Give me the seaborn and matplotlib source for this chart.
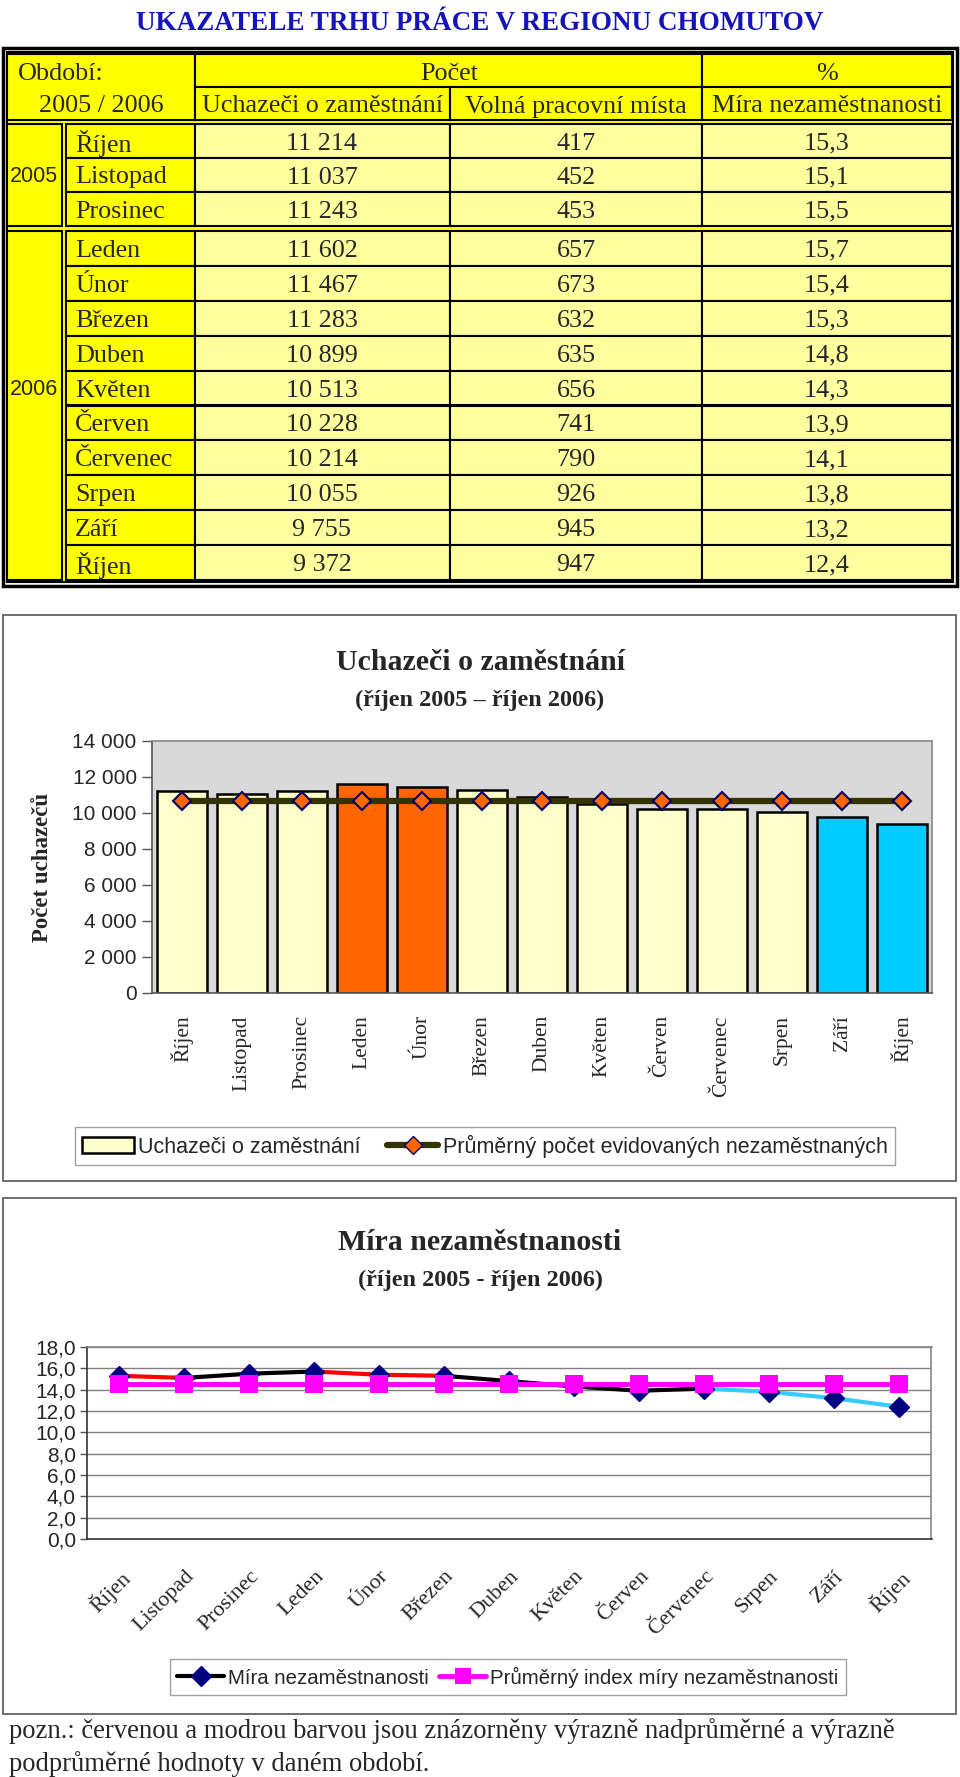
import matplotlib
matplotlib.use("Agg")
import matplotlib.pyplot as plt
import matplotlib.patches as mpatches
from matplotlib.lines import Line2D
import numpy as np
import pandas as pd
import seaborn as sns

# Data
mesice = ["Říjen", "Listopad", "Prosinec", "Leden", "Únor", "Březen", "Duben",
          "Květen", "Červen", "Červenec", "Srpen", "Září", "Říjen"]
roky = ["2005", "2006"]
pocet_mesicu = [3, 10]
uchazeci = [11214, 11037, 11243, 11602, 11467, 11283, 10899, 10513, 10228,
            10214, 10055, 9755, 9372]
volna_mista = [417, 452, 453, 657, 673, 632, 635, 656, 741, 790, 926, 945, 947]
mira = [15.3, 15.1, 15.5, 15.7, 15.4, 15.3, 14.8, 14.3, 13.9, 14.1, 13.8, 13.2, 12.4]
prumer_uchazeci = [10683, 10683, 10683, 10683, 10683, 10683, 10683,
                   10683, 10683, 10683, 10683, 10683, 10683]
prumer_mira = [14.5, 14.5, 14.5, 14.5, 14.5, 14.5, 14.5,
               14.5, 14.5, 14.5, 14.5, 14.5, 14.5]

# styles
barvy_sloupcu = ["#FFFFCC", "#FFFFCC", "#FFFFCC", "#FF6600", "#FF6600", "#FFFFCC",
                 "#FFFFCC", "#FFFFCC", "#FFFFCC", "#FFFFCC", "#FFFFCC", "#00CCFF", "#00CCFF"]
barvy_useku = ["#FF0000", "#000000", "#000000", "#FF0000", "#FF0000", "#000000",
               "#000000", "#000000", "#000000", "#33CCFF", "#33CCFF", "#33CCFF"]

SERIF = "Liberation Serif"
SANS = "Liberation Sans"
W, H = 960, 1777

sns.set_style("white")
plt.rcParams["font.family"] = [SANS, "DejaVu Sans"]

fig = plt.figure(figsize=(W / 100, H / 100), dpi=100)
bg = fig.add_axes([0, 0, 1, 1], zorder=0)
bg.set_xlim(0, W)
bg.set_ylim(H, 0)
bg.axis("off")


def fmt_int(v):
    return f"{v:,}".replace(",", " ")


def fmt_dec(v):
    return f"{v:.1f}".replace(".", ",")


def cell(x0, y0, x1, y1, fc, lw=1.5):
    bg.add_patch(mpatches.Rectangle((x0, y0), x1 - x0, y1 - y0, facecolor=fc,
                                    edgecolor="black", linewidth=lw))


# ---- title
bg.text(480, 24, "UKAZATELE TRHU PRÁCE V REGIONU CHOMUTOV", ha="center", va="center",
        fontsize=19.5, fontweight="bold", family=SERIF, color="#1414B8")

# ---- table
yellow = "#FFFF00"
pale = "#FFFFA0"
cell(3, 48, 957, 586, "white", lw=2.5)
cell(7, 52, 953, 582, yellow, lw=1.5)

# header
cell(7, 54, 195, 120, yellow)
cell(195, 54, 702, 87, yellow)
cell(702, 54, 952, 87, yellow)
cell(195, 87, 450, 120, yellow)
cell(450, 87, 702, 120, yellow)
cell(702, 87, 952, 120, yellow)
tfs = 18.8
dy = 2.5
bg.text(18, 72 + dy, "Období:", ha="left", va="center", fontsize=tfs, family=SERIF)
bg.text(101, 104 + dy, "2005 / 2006", ha="center", va="center", fontsize=tfs, family=SERIF)
bg.text(449, 71 + dy, "Počet", ha="center", va="center", fontsize=tfs, family=SERIF)
bg.text(827, 71 + dy, "%", ha="center", va="center", fontsize=tfs, family=SERIF)
bg.text(322, 104 + dy, "Uchazeči o zaměstnání", ha="center", va="center", fontsize=tfs, family=SERIF)
bg.text(576, 104 + dy, "Volná pracovní místa", ha="center", va="center", fontsize=tfs, family=SERIF)
bg.text(827, 104 + dy, "Míra nezaměstnanosti", ha="center", va="center", fontsize=tfs, family=SERIF)

bloky = [(124, 226), (231, 580)]
i = 0
for rok, n, (yt, yb) in zip(roky, pocet_mesicu, bloky):
    rh = (yb - yt) / n
    cell(7, yt, 62, yb, yellow)
    ystred = yt + ((n - 1) // 2 + 0.5) * rh
    bg.text(34, ystred + 1, rok, ha="center", va="center", fontsize=15.5, family=SANS)
    for k in range(n):
        y0 = yt + k * rh
        y1 = y0 + rh
        cell(66, y0, 195, y1, yellow)
        cell(195, y0, 450, y1, pale)
        cell(450, y0, 702, y1, pale)
        cell(702, y0, 952, y1, pale)
        yc = (y0 + y1) / 2 + dy
        bg.text(75, yc, mesice[i], ha="left", va="center", fontsize=tfs, family=SERIF)
        bg.text(322, yc, fmt_int(uchazeci[i]), ha="center", va="center", fontsize=tfs, family=SERIF)
        bg.text(576, yc, fmt_int(volna_mista[i]), ha="center", va="center", fontsize=tfs, family=SERIF)
        bg.text(827, yc, fmt_dec(mira[i]), ha="center", va="center", fontsize=tfs, family=SERIF)
        i += 1

# ---- chart boxes
for y0, y1 in [(615, 1181), (1198, 1714)]:
    bg.add_patch(mpatches.Rectangle((3, y0), 953, y1 - y0, facecolor="white",
                                    edgecolor="#555555", linewidth=1.2))

# ---- chart 1: bars
bg.text(480, 663, "Uchazeči o zaměstnání", ha="center", va="center", fontsize=21.5,
        fontweight="bold", family=SERIF)
bg.text(480, 700, "(říjen 2005 – říjen 2006)", ha="center", va="center", fontsize=17.5,
        fontweight="bold", family=SERIF)

ax1 = fig.add_axes([152 / W, 1 - 993 / H, 780 / W, 252 / H], zorder=2)
ax1.set_facecolor("#D9D9D9")
klice = [str(k) for k in range(len(mesice))]
df1 = pd.DataFrame({"klic": klice, "uchazeci": uchazeci})
sns.barplot(data=df1, x="klic", y="uchazeci", hue="klic",
            palette=dict(zip(klice, barvy_sloupcu)), legend=False, width=0.82,
            saturation=1, edgecolor="black", linewidth=1.8, ax=ax1, zorder=2)
sns.lineplot(x=np.arange(len(mesice)), y=prumer_uchazeci, color="#333300", linewidth=4.5,
             marker="D", markersize=9, markerfacecolor="#FF6600", markeredgecolor="#000066",
             markeredgewidth=1.5, ax=ax1, zorder=3)
ax1.set_xlim(-0.5, len(mesice) - 0.5)
ax1.set_ylim(0, 14000)
ax1.set_yticks(range(0, 14001, 2000))
ax1.set_yticklabels([fmt_int(v) for v in range(0, 14001, 2000)], fontsize=15, family=SANS)
ax1.set_xticks(range(len(mesice)))
ax1.set_xticklabels(mesice, rotation=90, fontsize=15.5, family=SERIF)
ax1.set_xticks(np.arange(-0.5, len(mesice)), minor=True)
ax1.tick_params(axis="x", which="major", length=0, pad=16)
ax1.tick_params(axis="x", which="minor", length=7, width=1, color="#555555")
ax1.tick_params(axis="y", length=7, width=1, color="#555555", left=True, pad=4)
ax1.set_xlabel("")
ax1.set_ylabel("Počet uchazečů", fontsize=16.5, fontweight="bold",
               family=SERIF, labelpad=14)
for s in ["top", "right"]:
    ax1.spines[s].set_color("#888888")
for s in ["left", "bottom"]:
    ax1.spines[s].set_color("#555555")
for s in ax1.spines.values():
    s.set_visible(True)
    s.set_linewidth(1.2)

h1 = [mpatches.Patch(facecolor="#FFFFCC", edgecolor="black", linewidth=1.8),
      Line2D([], [], color="#333300", linewidth=4.5, marker="D", markersize=9,
             markerfacecolor="#FF6600", markeredgecolor="#000066")]
fig.legend(h1, ["Uchazeči o zaměstnání", "Průměrný počet evidovaných nezaměstnaných"],
           loc="center", bbox_to_anchor=(485 / W, 1 - 1146 / H), ncol=2,
           frameon=True, fancybox=False, edgecolor="#888888", borderpad=0.35,
           handlelength=2.4, handletextpad=0.2, columnspacing=1.2,
           prop={"family": SANS, "size": 15.5})

# ---- chart 2: lines
bg.text(480, 1243, "Míra nezaměstnanosti", ha="center", va="center", fontsize=21.5,
        fontweight="bold", family=SERIF)
bg.text(480, 1280, "(říjen 2005 - říjen 2006)", ha="center", va="center", fontsize=17.5,
        fontweight="bold", family=SERIF)

ax2 = fig.add_axes([87 / W, 1 - 1539 / H, 844.5 / W, 192 / H], zorder=2)
x = np.arange(len(mesice))
for k in range(len(mesice) - 1):
    ax2.plot(x[k:k + 2], mira[k:k + 2], color=barvy_useku[k], linewidth=3, zorder=3,
             solid_capstyle="round")
ax2.plot(x, mira, linestyle="none", marker="D", markersize=10, color="#000080", zorder=4)
sns.lineplot(x=x, y=prumer_mira, color="#FF00FF", linewidth=3.5, marker="s", markersize=13,
             markeredgewidth=0, ax=ax2, zorder=5)
ax2.set_xlim(-0.5, len(mesice) - 0.5)
ax2.set_ylim(0, 18)
ax2.set_yticks(np.arange(0, 18.1, 2))
ax2.set_yticklabels([fmt_dec(v) for v in np.arange(0, 18.1, 2)], fontsize=15, family=SANS)
ax2.yaxis.grid(True, color="#808080", linewidth=1)
ax2.set_axisbelow(True)
ax2.set_xticks(x)
ax2.set_xticklabels(mesice, rotation=45, ha="right", va="top", rotation_mode="anchor",
                    fontsize=16, family=SERIF)
ax2.set_xticks(np.arange(-0.5, len(mesice)), minor=True)
ax2.tick_params(axis="x", which="major", length=0, pad=20)
ax2.tick_params(axis="x", which="minor", length=7, width=1, color="#555555")
ax2.tick_params(axis="y", length=5, width=1, color="#555555", left=True, pad=3)
for s in ["top", "right"]:
    ax2.spines[s].set_color("#888888")
for s in ["left", "bottom"]:
    ax2.spines[s].set_color("#333333")
for s in ax2.spines.values():
    s.set_visible(True)
    s.set_linewidth(1.2)

h2 = [Line2D([], [], color="black", linewidth=3, marker="D", markersize=10,
             markerfacecolor="#000080", markeredgecolor="#000080"),
      Line2D([], [], color="#FF00FF", linewidth=3.5, marker="s", markersize=12,
             markeredgewidth=0)]
fig.legend(h2, ["Míra nezaměstnanosti", "Průměrný index míry nezaměstnanosti"],
           loc="center", bbox_to_anchor=(508 / W, 1 - 1677 / H), ncol=2,
           frameon=True, fancybox=False, edgecolor="#888888", borderpad=0.35,
           handlelength=2.3, handletextpad=0.2, columnspacing=0.5,
           prop={"family": SANS, "size": 14.7})

# ---- note
bg.text(9, 1731, "pozn.: červenou a modrou barvou jsou znázorněny výrazně nadprůměrné a výrazně",
        ha="left", va="center", fontsize=19.2, family=SERIF)
bg.text(9, 1764, "podprůměrné hodnoty v daném období.", ha="left", va="center",
        fontsize=19.2, family=SERIF)

fig.savefig("out.png", dpi=100)
